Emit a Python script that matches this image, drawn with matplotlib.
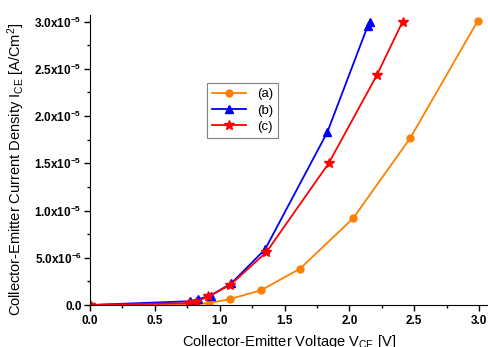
import numpy as np
import matplotlib
matplotlib.use("Agg")
import matplotlib.pyplot as plt
from matplotlib.ticker import FixedLocator, MultipleLocator

plt.rcParams['font.family'] = ['Liberation Sans', 'DejaVu Sans']
plt.rcParams['mathtext.fontset'] = 'custom'
plt.rcParams['mathtext.rm'] = 'Liberation Sans'
plt.rcParams['mathtext.bf'] = 'Liberation Sans:bold'
plt.rcParams['mathtext.it'] = 'Liberation Sans:italic'

# data (V, A/cm^2)
va = [0.0, 0.81, 0.92, 1.08, 1.32, 1.62, 2.03, 2.47, 2.99]
ia = [0.0, 0.1e-6, 0.2e-6, 0.63e-6, 1.57e-6, 3.85e-6, 9.2e-6, 1.77e-5, 3.01e-5]

vb = [0.0, 0.77, 0.83, 0.93, 1.09, 1.35, 1.83, 2.14, 2.16]
ib = [0.0, 0.4e-6, 0.6e-6, 1.0e-6, 2.3e-6, 5.9e-6, 1.83e-5, 2.95e-5, 3.0e-5]

vc = [0.0, 0.76, 0.82, 0.91, 1.08, 1.36, 1.84, 2.21, 2.41]
ic = [0.0, 0.2e-6, 0.35e-6, 0.9e-6, 2.1e-6, 5.6e-6, 1.5e-5, 2.43e-5, 3.0e-5]

labels = ['(a)', '(b)', '(c)']
yticks = [0, 5e-6, 1e-5, 1.5e-5, 2e-5, 2.5e-5, 3e-5]
ytick_labels = ['0.0', r'$\mathbf{5.0x10^{-6}}$', r'$\mathbf{1.0x10^{-5}}$', r'$\mathbf{1.5x10^{-5}}$',
                r'$\mathbf{2.0x10^{-5}}$', r'$\mathbf{2.5x10^{-5}}$', r'$\mathbf{3.0x10^{-5}}$']
xticks = [0.0, 0.5, 1.0, 1.5, 2.0, 2.5, 3.0]

fig = plt.figure(figsize=(4.89, 3.47), dpi=100)
ax = fig.add_axes([90/489, 1 - 305/347, 399/489, 290/347])

ax.plot(va, ia, color='#ff8000', marker='o', ms=5, lw=1.3, label=labels[0])
ax.plot(vb, ib, color='#0000ff', marker='^', ms=6, lw=1.3, label=labels[1])
ax.plot(vc, ic, color='#ff0000', marker='*', ms=7, lw=1.3, label=labels[2])

ax.set_xlim(0, 3.076)
ax.set_ylim(0, 3.07e-5)
ax.spines['top'].set_visible(False)
ax.spines['right'].set_visible(False)

ax.xaxis.set_major_locator(FixedLocator(xticks))
ax.set_xticklabels(['%.1f' % x for x in xticks], fontweight='bold', fontsize=8.5)
ax.xaxis.set_minor_locator(MultipleLocator(0.25))
ax.yaxis.set_major_locator(FixedLocator(yticks))
ax.set_yticklabels(ytick_labels, fontweight='bold', fontsize=8.5)
ax.yaxis.set_minor_locator(MultipleLocator(2.5e-6))
ax.tick_params(which='major', direction='out', length=4, width=1)
ax.tick_params(which='minor', direction='out', length=2.5, width=1)
ax.tick_params(axis='y', pad=2)

ax.set_xlabel(r'Collector-Emitter Voltage V$_{\mathrm{CE}}$ [V]', fontsize=10.5)
ax.set_ylabel(r'Collector-Emitter Current Density I$_{\mathrm{CE}}$ [A/Cm$^2$]', fontsize=10.5)
ax.xaxis.set_label_coords(0.5, -0.096)
ax.yaxis.set_label_coords(-0.158, 0.469)

leg = ax.legend(loc='upper left', bbox_to_anchor=(0.293, 0.766), borderaxespad=0,
                fontsize=9.5, handlelength=2.6, fancybox=False, edgecolor='gray',
                framealpha=1, labelspacing=0.3)
leg.get_frame().set_linewidth(0.8)

fig.savefig('out.png', dpi=100)
